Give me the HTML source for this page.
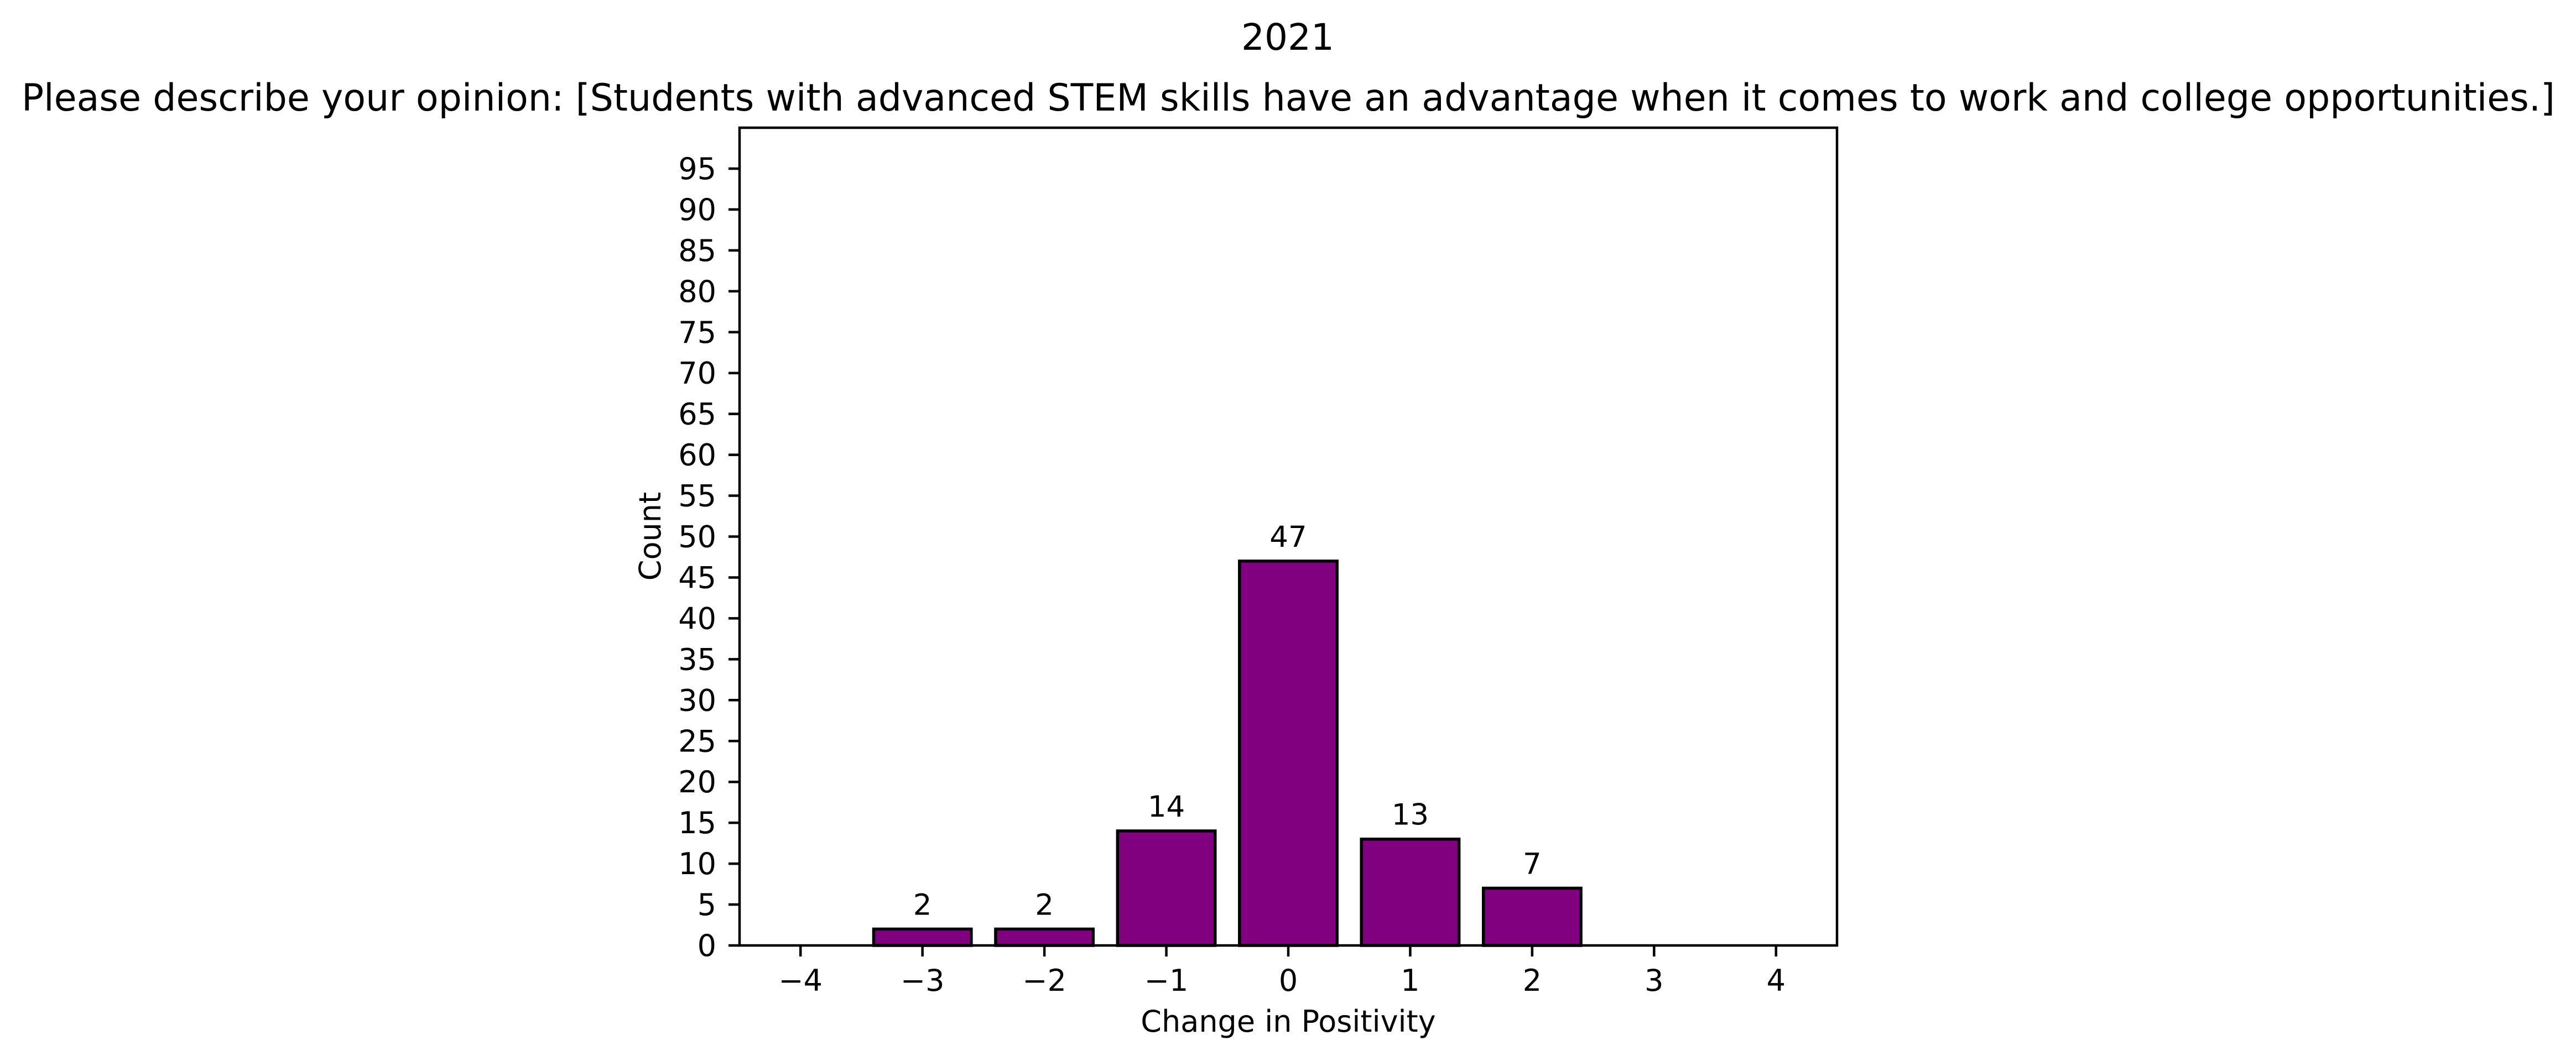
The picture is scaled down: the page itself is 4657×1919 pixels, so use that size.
<!DOCTYPE html>
<html><head><meta charset="utf-8"><style>
html,body{margin:0;padding:0;background:#fff}
svg{display:block}
text{font-family:"DejaVu Sans","Liberation Sans",sans-serif;fill:#000}
</style></head><body>
<svg id="chart" width="4657" height="1919" viewBox="0 0 4657 1919" xmlns="http://www.w3.org/2000/svg">
<rect x="0" y="0" width="4657" height="1919" fill="#fff"/>
<text x="2328" y="90" font-size="66" text-anchor="middle">2021</text>
<text x="2329" y="200" font-size="68" text-anchor="middle" textLength="4580" lengthAdjust="spacingAndGlyphs">Please describe your opinion: [Students with advanced STEM skills have an advantage when it comes to work and college opportunities.]</text>
<g id="plot"></g>
<text x="2329" y="1866" font-size="54" text-anchor="middle">Change in Positivity</text>
<text transform="translate(1194,970) rotate(-90)" font-size="54" text-anchor="middle">Count</text>
</svg>
<script>
const categories = [-4, -3, -2, -1, 0, 1, 2, 3, 4];
const counts = [0, 2, 2, 14, 47, 13, 7, 0, 0];
const yTicks = [0,5,10,15,20,25,30,35,40,45,50,55,60,65,70,75,80,85,90,95];
const xTickLabels = ["\u22124","\u22123","\u22122","\u22121","0","1","2","3","4"];

const NS = "http://www.w3.org/2000/svg";
const L = 1337, R = 3321, T = 231, B = 1710;
const xMin = -4.5, xMax = 4.5, yMin = 0, yMax = 100;
function xs(v){ return L + (v - xMin) / (xMax - xMin) * (R - L); }
function ys(v){ return B - (v - yMin) / (yMax - yMin) * (B - T); }
const g = document.getElementById('plot');
function mk(tag, attrs){ const e = document.createElementNS(NS, tag); for (const k in attrs) e.setAttribute(k, attrs[k]); g.appendChild(e); return e; }

const bw = 0.8;
categories.forEach((c, i) => {
  const v = counts[i];
  const x0 = xs(c - bw/2), x1 = xs(c + bw/2), y0 = ys(v), y1 = ys(0);
  const r = mk('rect', {x: x0, y: y0, width: x1 - x0, height: Math.max(0, y1 - y0), fill: '#800080', stroke: '#000', 'stroke-width': 5.5});
  
  
  if (v > 0) {
    const t = mk('text', {x: xs(c), y: y0 - 26, 'font-size': 53, 'text-anchor': 'middle'});
    t.textContent = v;
    
    
  }
});

yTicks.forEach(v => {
  const y = ys(v);
  const tk = mk('line', {x1: L - 20, x2: L, y1: y, y2: y, stroke: '#000', 'stroke-width': 4.5});
  
  
  const t = mk('text', {x: L - 42, y: y + 19, 'font-size': 54, 'text-anchor': 'end'});
  t.textContent = v;
  
  
});

categories.forEach((c, i) => {
  const x = xs(c);
  const tk = mk('line', {x1: x, x2: x, y1: B, y2: B + 20, stroke: '#000', 'stroke-width': 4.5});
  
  
  const t = mk('text', {x: x, y: 1792, 'font-size': 54, 'text-anchor': 'middle'});
  t.textContent = xTickLabels[i];
  
  
});

const frame = mk('rect', {x: L, y: T, width: R - L, height: B - T, fill: 'none', stroke: '#000', 'stroke-width': 4.5});


</script>
</body></html>
